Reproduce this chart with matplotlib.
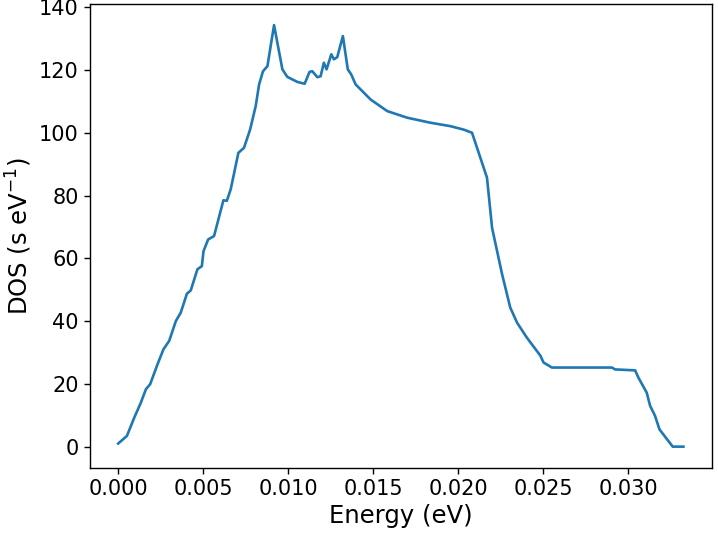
import matplotlib
matplotlib.use("Agg")
import matplotlib.pyplot as plt

energy = [0.0, 0.00051, 0.00094, 0.00133, 0.00163, 0.00188, 0.00231, 0.00266, 0.0030,
          0.00339, 0.00368, 0.00404, 0.00427, 0.00466, 0.00492, 0.00502, 0.00529, 0.00564,
          0.00619, 0.00639, 0.00662, 0.00707, 0.0074, 0.00776, 0.00809, 0.00829, 0.00852,
          0.00878, 0.00917, 0.00966, 0.00995, 0.01054, 0.01097, 0.01126, 0.01142, 0.01172,
          0.01191, 0.0121, 0.01226, 0.01254, 0.01269, 0.01289, 0.01322, 0.01351, 0.01371,
          0.01397, 0.01485, 0.01583, 0.0170, 0.01837, 0.01955, 0.02033, 0.02082, 0.0217,
          0.0220, 0.02259, 0.02307, 0.02347, 0.02405, 0.02484, 0.02503, 0.02552, 0.02905,
          0.02924, 0.03042, 0.03061, 0.0311, 0.0313, 0.03159, 0.03185, 0.03263, 0.03326]
dos = [1.0, 3.4, 9.2, 14.0, 18.3, 19.9, 26.2, 31.0, 33.7,
       40.0, 42.7, 48.7, 49.8, 56.5, 57.5, 62.3, 66.0, 67.1,
       78.5, 78.3, 82.0, 93.6, 95.2, 101.0, 108.5, 115.4, 119.6,
       121.2, 134.3, 120.2, 117.8, 116.2, 115.6, 119.4, 119.6, 117.7,
       118.0, 122.3, 120.2, 125.0, 123.4, 124.1, 130.8, 120.2, 118.6,
       115.4, 110.6, 106.9, 104.8, 103.2, 102.1, 101.0, 100.0, 85.7,
       69.7, 54.9, 44.3, 39.5, 34.7, 29.0, 26.8, 25.2, 25.2,
       24.6, 24.3, 22.0, 17.2, 13.0, 9.8, 5.5, 0.0, 0.0]

xticks = [0.0, 0.005, 0.01, 0.015, 0.02, 0.025, 0.03]
xticklabels = ['0.000', '0.005', '0.010', '0.015', '0.020', '0.025', '0.030']

fig = plt.figure(figsize=(7.18, 5.36), dpi=100)
ax = fig.add_axes([0.1253, 0.1274, 0.8659, 0.8651])
ax.plot(energy, dos, color='#1f77b4', linewidth=1.9)
ax.set_xlabel('Energy (eV)', fontsize=17.5)
ax.set_ylabel('DOS (s eV$^{-1}$)', fontsize=17.5)
ax.set_xticks(xticks)
ax.set_xticklabels(xticklabels)
ax.tick_params(labelsize=15, length=4.5, width=1)
for s in ax.spines.values():
    s.set_linewidth(1.0)
fig.savefig('out.png', dpi=100)
